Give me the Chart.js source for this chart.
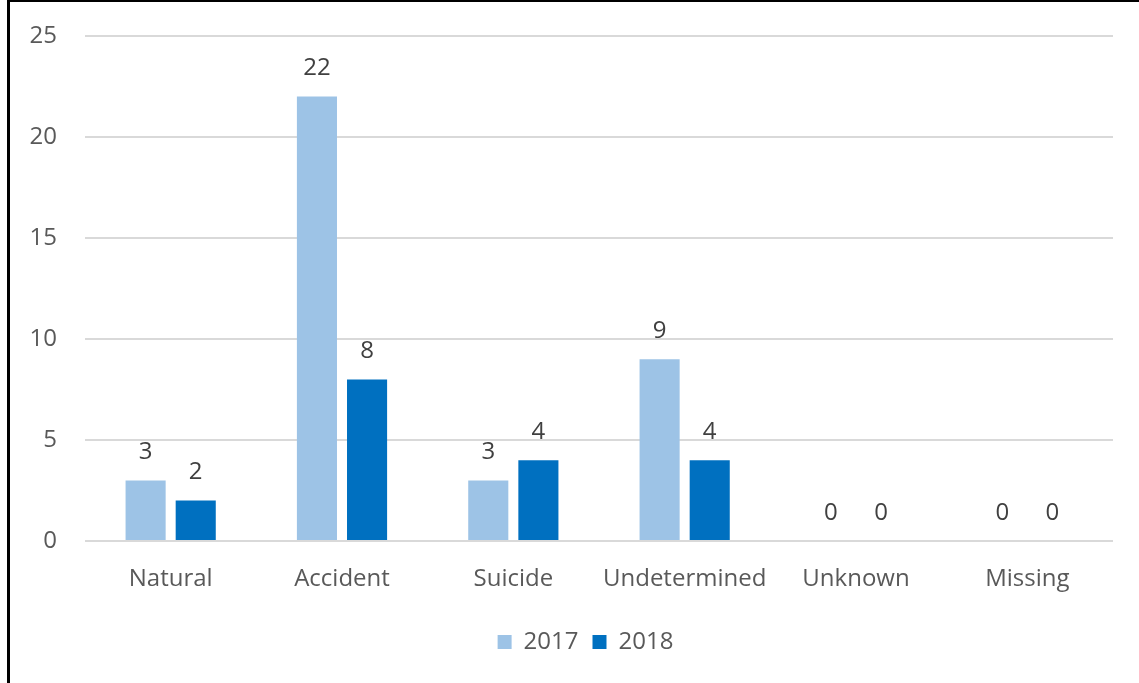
<!DOCTYPE html>
<html lang="en">
<head>
    <meta charset="UTF-8">
    <title>Manner of Death 2017 vs 2018</title>
    <script src="https://cdn.jsdelivr.net/npm/chart.js"></script>
    <style>
        body {
            margin: 0;
            background: #ffffff;
        }

        .frame {
            position: absolute;
            left: 7px;
            top: 0;
            width: 1129px;
            height: 681px;
            border-left: 3px solid #000;
            border-top: 2px solid #000;
            background: #fff;
        }
    </style>
</head>
<body>

    <div class="frame">
        <canvas id="mannerChart"></canvas>
    </div>

    <script>
        // chart data
        const categories = ['Natural', 'Accident', 'Suicide', 'Undetermined', 'Unknown', 'Missing'];
        const seriesNames = ['2017', '2018'];
        const values2017 = [3, 22, 3, 9, 0, 0];
        const values2018 = [2, 8, 4, 4, 0, 0];
        const yTicks = [0, 5, 10, 15, 20, 25];

        const textFont = { family: '"Open Sans", sans-serif', size: 24 };

        // draws the value above each bar
        const valueLabels = {
            id: 'valueLabels',
            afterDatasetsDraw(chart) {
                const ctx = chart.ctx;
                ctx.save();
                ctx.font = '24px "Open Sans", sans-serif';
                ctx.fillStyle = '#404040';
                ctx.textAlign = 'center';
                ctx.textBaseline = 'bottom';
                chart.data.datasets.forEach((ds, i) => {
                    chart.getDatasetMeta(i).data.forEach((bar, j) => {
                        ctx.fillText(ds.data[j], bar.x, bar.y - 16);
                    });
                });
                ctx.restore();
            }
        };

        // legend sits centred under the plot area, not the whole canvas
        const legendShift = {
            id: 'legendShift',
            afterLayout(chart) {
                chart.legend.left += 24;
                chart.legend.right += 24;
            }
        };

        new Chart(document.getElementById('mannerChart'), {
            type: 'bar',
            data: {
                labels: categories,
                datasets: [
                    {
                        label: seriesNames[0],
                        data: values2017,
                        backgroundColor: '#9dc3e6'
                    },
                    {
                        label: seriesNames[1],
                        data: values2018,
                        backgroundColor: '#0070c0'
                    }
                ]
            },
            options: {
                responsive: true,
                maintainAspectRatio: false,
                animation: false,
                layout: {
                    padding: { top: 34, right: 26, bottom: 19, left: 0 }
                },
                datasets: {
                    bar: {
                        categoryPercentage: 0.585,
                        barPercentage: 0.8
                    }
                },
                plugins: {
                    tooltip: { enabled: false },
                    legend: {
                        display: true,
                        position: 'bottom',
                        labels: {
                            boxWidth: 14,
                            boxHeight: 14,
                            padding: 14,
                            color: '#595959',
                            font: textFont
                        }
                    }
                },
                scales: {
                    x: {
                        grid: { display: false, drawTicks: false },
                        border: { display: false },
                        ticks: {
                            color: '#595959',
                            font: textFont,
                            padding: 24
                        },
                        afterFit(scale) {
                            scale.height = 75;
                        }
                    },
                    y: {
                        min: 0,
                        max: 25,
                        afterBuildTicks(scale) {
                            scale.ticks = yTicks.map(v => ({ value: v }));
                        },
                        grid: {
                            color: '#d9d9d9',
                            lineWidth: 2,
                            drawTicks: false
                        },
                        border: { display: false },
                        ticks: {
                            color: '#595959',
                            font: textFont,
                            padding: 28
                        },
                        afterFit(scale) {
                            scale.width = 75;
                            scale.paddingTop = 0;
                            scale.paddingBottom = 0;
                        }
                    }
                }
            },
            plugins: [valueLabels, legendShift]
        });
    </script>

</body>
</html>
